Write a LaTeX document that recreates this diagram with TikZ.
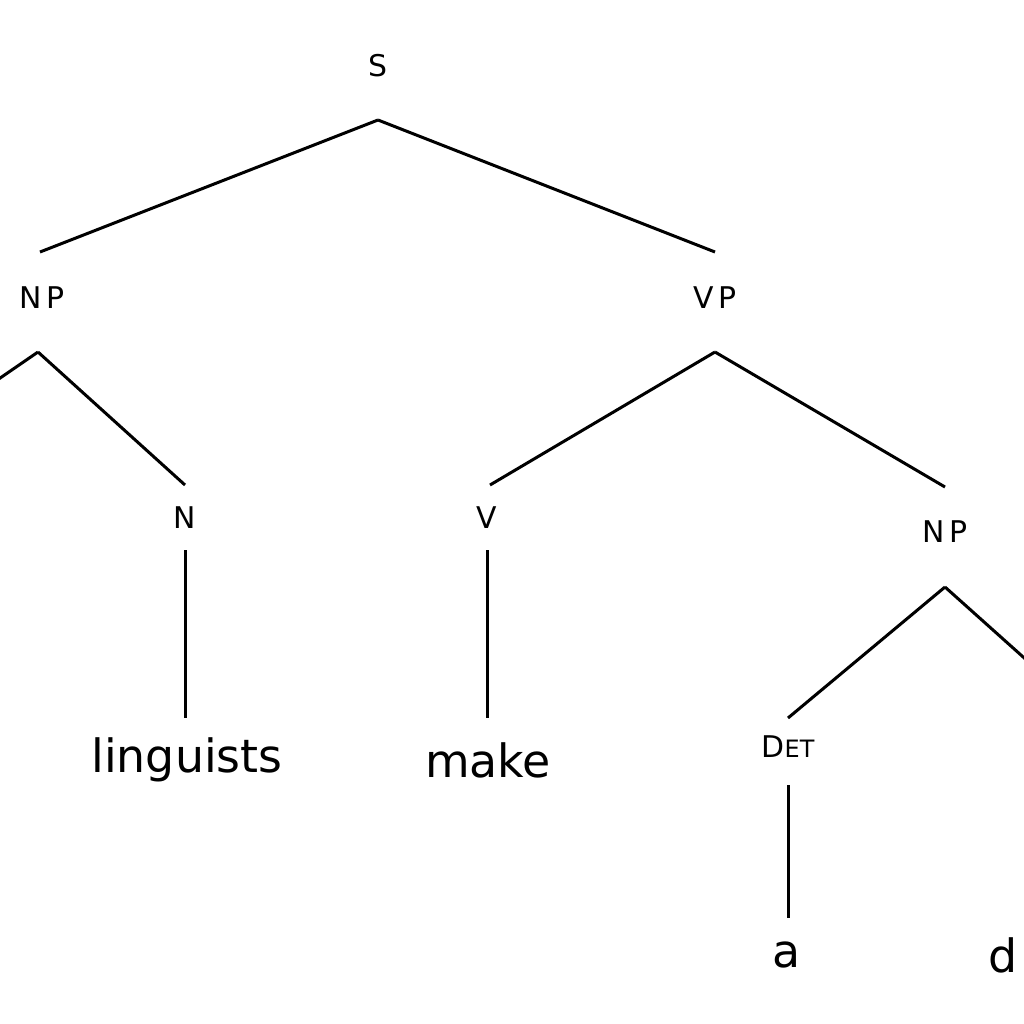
\documentclass[tikz,border=0pt]{standalone}
\usepackage{fontspec}
\setmainfont{DejaVu Sans}
\begin{document}
\begin{tikzpicture}[x=1bp,y=-1bp,
  cat/.style={font=\fontsize{30}{30}\selectfont, inner sep=0pt},
  word/.style={font=\fontsize{46}{46}\selectfont, inner sep=0pt},
  br/.style={line width=3bp}]
\useasboundingbox (0,0) rectangle (1024,1024);
\clip (0,0) rectangle (1024,1024);
\node[cat] (S) at (378,66) {S};
\node[cat] (NP1) at (42,298) {N\,P};
\node[cat] (VP) at (715,298) {V\,P};
\node[cat] (N) at (185,518) {N};
\node[cat] (V) at (487,518) {V};
\node[cat] (NP2) at (945,532) {N\,P};
\node[cat] (Det) at (788,747) {D\fontsize{24}{24}\selectfont ET};
\node[word] (w1) at (187,760) {linguists};
\node[word] (w2) at (488,760) {make};
\node[word] (w3) at (787,955) {a};
\node[word,anchor=west] (w4) at (988,955) {d};
\coordinate (l1) at (-10,385);
\coordinate (r2) at (1060,690);
\draw[br] (378,120) -- (40,252);
\draw[br] (378,120) -- (715,252);
\draw[br] (38,352) -- (l1);
\draw[br] (38,352) -- (185,485);
\draw[br] (185,550) -- (185,718);
\draw[br] (715,352) -- (490,485);
\draw[br] (715,352) -- (945,487);
\draw[br] (487,550) -- (487,718);
\draw[br] (945,587) -- (788,718);
\draw[br] (945,587) -- (r2);
\draw[br] (788,785) -- (788,918);
\end{tikzpicture}
\end{document}
